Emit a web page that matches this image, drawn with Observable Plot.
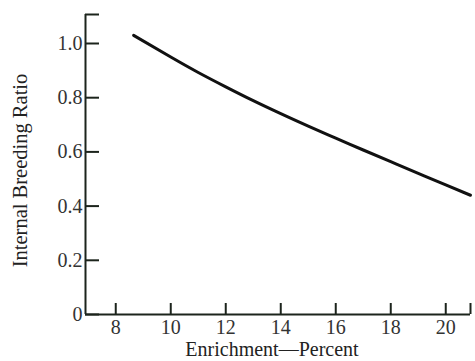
<!DOCTYPE html>
<html>
<head>
<meta charset="utf-8">
<script src="https://cdn.jsdelivr.net/npm/d3@7"></script>
<script src="https://cdn.jsdelivr.net/npm/@observablehq/plot@0.6"></script>
<style>
  html, body { margin: 0; padding: 0; background: #fff; }
  #chart svg { display: block; }
</style>
</head>
<body>
<div id="chart"></div>
<script>
// Internal breeding ratio as a function of fuel enrichment
const enrichment = [8.65, 10, 11, 12, 13, 14, 15, 16, 17, 18, 19, 20, 20.9];
const breedingRatio = [1.03, 0.95, 0.893, 0.840, 0.789, 0.741, 0.695, 0.651, 0.607, 0.564, 0.521, 0.478, 0.44];

const xTicks = [8, 10, 12, 14, 16, 18, 20];
const yTicks = [0, 0.2, 0.4, 0.6, 0.8, 1.0];
const yTickLabels = ["0", "0.2", "0.4", "0.6", "0.8", "1.0"];
const xLabel = "Enrichment\u2014Percent";
const yLabel = "Internal Breeding Ratio";

const xDomain = [6.9, 20.9];
const yDomain = [0, 1.107];

const data = enrichment.map((x, i) => ({x, y: breedingRatio[i]}));

const ink = "#1c241c";
const font = "'Liberation Serif', 'DejaVu Serif', serif";

const chart = Plot.plot({
  width: 475,
  height: 361,
  marginLeft: 85,
  marginRight: 5,
  marginTop: 14,
  marginBottom: 47,
  style: {fontFamily: font, background: "#fff"},
  x: {domain: xDomain},
  y: {domain: yDomain},
  marks: [
    // axis lines
    Plot.ruleY([yDomain[0]], {stroke: ink, strokeWidth: 2}),
    Plot.ruleX([xDomain[0]], {stroke: ink, strokeWidth: 2}),
    // inward ticks with labels
    Plot.axisX({ticks: xTicks, tickSize: -11, tickPadding: 16, tickFormat: d => String(d),
      fontSize: 20, color: "#333", stroke: ink, strokeWidth: 2, label: null}),
    Plot.axisY({ticks: yTicks, tickSize: -14, tickPadding: 17,
      tickFormat: (d, i) => yTickLabels[i], fontSize: 20, color: "#333",
      stroke: ink, strokeWidth: 2, label: null}),
    // end caps of the axes
    Plot.axisY({ticks: [yDomain[1]], tickSize: -14, tickFormat: () => "", stroke: ink, strokeWidth: 2, label: null}),
    Plot.axisX({ticks: [xDomain[1]], tickSize: -11, tickFormat: () => "", stroke: ink, strokeWidth: 2, label: null}),
    // axis titles
    Plot.text([xLabel], {frameAnchor: "bottom", dy: 41, dx: -6, fontSize: 20, fill: "#222", textAnchor: "middle"}),
    Plot.text([yLabel], {frameAnchor: "left", rotate: -90, dx: -65, dy: 6, fontSize: 20.5, fill: "#222", textAnchor: "middle"}),
    // the curve
    Plot.line(data, {x: "x", y: "y", curve: "natural", stroke: "#111", strokeWidth: 3})
  ]
});

document.getElementById("chart").appendChild(chart);
</script>
</body>
</html>
